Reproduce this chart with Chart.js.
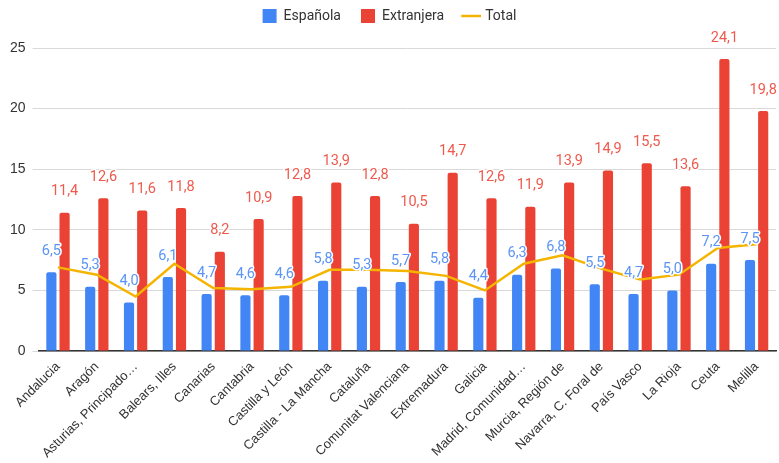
<!DOCTYPE html>
<html>
<head>
<meta charset="utf-8">
<script src="https://cdn.jsdelivr.net/npm/chart.js@4/dist/chart.umd.min.js"></script>
<style>
  html, body { margin: 0; padding: 0; background: #fff; }
  #wrap { width: 779px; height: 463px; }
</style>
</head>
<body>
<div id="wrap"><canvas id="chart"></canvas></div>
<script>
const regions = [
  "Andalucia", "Aragón", "Asturias, Principado…", "Balears, Illes", "Canarias",
  "Cantabria", "Castilla y León", "Castilla - La Mancha", "Cataluña",
  "Comunitat Valenciana", "Extremadura", "Galicia", "Madrid, Comunidad…",
  "Murcia, Región de", "Navarra, C. Foral de", "País Vasco", "La Rioja",
  "Ceuta", "Melilla",
];

const espanola = [6.5, 5.3, 4.0, 6.1, 4.7, 4.6, 4.6, 5.8, 5.3, 5.7, 5.8, 4.4, 6.3, 6.8, 5.5, 4.7, 5.0, 7.2, 7.5];
const extranjera = [11.4, 12.6, 11.6, 11.8, 8.2, 10.9, 12.8, 13.9, 12.8, 10.5, 14.7, 12.6, 11.9, 13.9, 14.9, 15.5, 13.6, 24.1, 19.8];
const total = [6.9, 6.3, 4.5, 7.2, 5.2, 5.1, 5.3, 6.7, 6.7, 6.6, 6.2, 5.0, 7.2, 7.9, 6.8, 5.9, 6.3, 8.5, 8.8];

const yTicks = [0, 5, 10, 15, 20, 25];

const BLUE = "#4285F4";
const RED = "#EA4335";
const YELLOW = "#F4B400";

// value labels above each bar, with a white halo so they sit cleanly over the line
const barLabels = {
  id: "barLabels",
  afterDatasetsDraw(chart) {
    const ctx = chart.ctx;
    const colours = ["#5B95F5", "#EE5A4D"];
    ctx.save();
    ctx.font = "14.5px Roboto, 'Liberation Sans', sans-serif";
    ctx.textAlign = "center";
    ctx.textBaseline = "middle";
    ctx.lineJoin = "round";
    [0, 1].forEach((di) => {
      const meta = chart.getDatasetMeta(di);
      const data = chart.data.datasets[di].data;
      meta.data.forEach((bar, i) => {
        const txt = data[i].toFixed(1).replace(".", ",");
        const y = bar.y - 21;
        ctx.strokeStyle = "#fff";
        ctx.lineWidth = 3;
        ctx.strokeText(txt, bar.x, y);
        ctx.fillStyle = colours[di];
        ctx.fillText(txt, bar.x, y);
      });
    });
    ctx.restore();
  },
};

// extra room between the legend and the plot
const legendGap = {
  id: "legendGap",
  beforeInit(chart) {
    const fit = chart.legend.fit;
    chart.legend.fit = function () {
      fit.call(this);
      this.height += 15;
    };
  },
};

new Chart(document.getElementById("chart"), {
  type: "bar",
  data: {
    labels: regions,
    datasets: [
      {
        label: "Española",
        data: espanola,
        backgroundColor: BLUE,
        borderRadius: 2,
        categoryPercentage: 0.68,
        barPercentage: 0.77,
        pointStyle: "rect",
        order: 2,
      },
      {
        label: "Extranjera",
        data: extranjera,
        backgroundColor: RED,
        borderRadius: 2,
        categoryPercentage: 0.68,
        barPercentage: 0.77,
        pointStyle: "rect",
        order: 2,
      },
      {
        type: "line",
        label: "Total",
        data: total,
        borderColor: YELLOW,
        backgroundColor: YELLOW,
        borderWidth: 2.5,
        pointRadius: 0,
        pointStyle: "line",
        tension: 0,
        order: 1,
      },
    ],
  },
  options: {
    responsive: true,
    maintainAspectRatio: false,
    animation: false,
    layout: { padding: { left: 3, right: 3, top: -11, bottom: 2 } },
    plugins: {
      legend: {
        position: "top",
        labels: {
          usePointStyle: true,
          boxWidth: 14,
          boxHeight: 14,
          padding: 20,
          color: "#333",
          font: { family: "Roboto, 'Liberation Sans', sans-serif", size: 14 },
          sort: (a, b) => a.datasetIndex - b.datasetIndex,
        },
      },
      tooltip: { enabled: false },
    },
    scales: {
      x: {
        grid: { display: false },
        border: { color: "#333", width: 1.5 },
        ticks: {
          minRotation: 45,
          maxRotation: 45,
          autoSkip: false,
          padding: 0,
          color: "#333",
          font: { family: "'Liberation Sans', Arial, sans-serif", size: 13 },
        },
      },
      y: {
        min: 0,
        max: 25,
        afterBuildTicks(axis) {
          axis.ticks = yTicks.map((v) => ({ value: v }));
        },
        border: { display: false },
        grid: {
          color: "#d9d9d9",
          tickLength: 6,
        },
        ticks: {
          padding: 7,
          color: "#333",
          font: { family: "'Liberation Sans', Arial, sans-serif", size: 14 },
        },
      },
    },
  },
  plugins: [barLabels, legendGap],
});
</script>
</body>
</html>
